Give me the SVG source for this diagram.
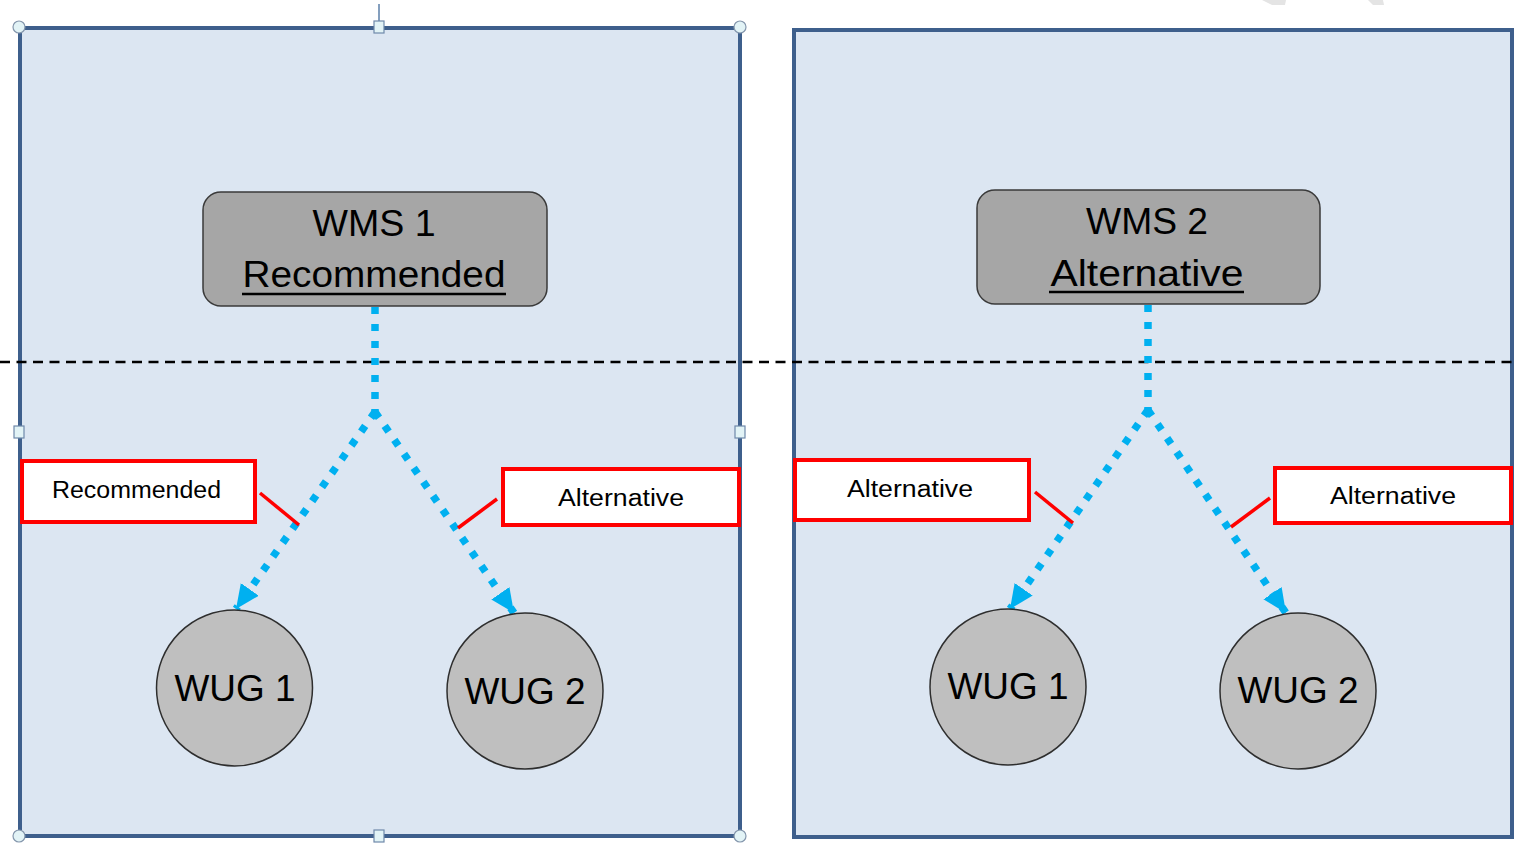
<svg xmlns="http://www.w3.org/2000/svg" width="1515" height="844" viewBox="0 0 1515 844">
  <style>
    .panel { fill: #DCE6F2; stroke: #3E5F8C; stroke-width: 4; }
    .wms { fill: #A6A6A6; stroke: #3A3A3A; stroke-width: 1.5; }
    .wug { fill: #BFBFBF; stroke: #2E2E2E; stroke-width: 1.5; }
    .big { font-family: "Liberation Sans", Arial, sans-serif; font-size: 37px; fill: #000; text-anchor: middle; }
    .lbl { fill: #FFFFFF; stroke: #FF0000; stroke-width: 4; }
    .lbltxt { font-family: "Liberation Sans", Arial, sans-serif; font-size: 23px; fill: #000; text-anchor: middle; }
    .call { stroke: #FF0000; stroke-width: 3.5; fill: none; }
    .dot { stroke: #00B0F0; stroke-width: 7.5; fill: none; stroke-dasharray: 7 10; }
    .sep { stroke: #000; stroke-width: 2.5; stroke-dasharray: 10 6.5; fill: none; }
    .hc { fill: #E2F3F6; stroke: #8496AC; stroke-width: 1.2; }
    .hs { fill: #E2F3F6; stroke: #6F89AA; stroke-width: 1.2; }
    .ul { stroke: #000; stroke-width: 2.5; }
  </style>
  <defs>
    <marker id="arr" markerUnits="userSpaceOnUse" markerWidth="30" markerHeight="30" refX="24" refY="11" orient="auto">
      <path d="M0,0 L24,11 L0,22 Z" fill="#00B0F0"/>
    </marker>
  </defs>

  <rect width="1515" height="844" fill="#FFFFFF"/>
  <polygon points="1262,0 1286,0 1285,5 1272,5" fill="#E4E4E4"/>
  <polygon points="1368,0 1383,0 1384,5 1373,5" fill="#E4E4E4"/>

  <g id="panel-left">
    <rect class="panel" x="20" y="28" width="720" height="808"/>
  </g>
  <g id="panel-right">
    <rect class="panel" x="794" y="30" width="718" height="807"/>
  </g>

  <g id="selection-handles">
    <line x1="379" y1="4" x2="379" y2="22" stroke="#5B7FA8" stroke-width="1.5"/>
    <circle class="hc" cx="19" cy="27" r="6"/>
    <circle class="hc" cx="740" cy="27" r="6"/>
    <circle class="hc" cx="19" cy="836" r="6"/>
    <circle class="hc" cx="740" cy="836" r="6"/>
    <rect class="hs" x="374" y="21" width="10" height="12"/>
    <rect class="hs" x="374" y="830" width="10" height="12"/>
    <rect class="hs" x="14" y="426" width="10" height="12"/>
    <rect class="hs" x="735" y="426" width="10" height="12"/>
  </g>

  <g id="separator">
    <line class="sep" x1="0" y1="362" x2="1515" y2="362"/>
  </g>

  <g id="connectors">
    <line class="dot" x1="375" y1="307" x2="375" y2="412"/>
    <line class="dot" x1="375" y1="412" x2="236" y2="609" marker-end="url(#arr)"/>
    <line class="dot" x1="375" y1="412" x2="514" y2="613" marker-end="url(#arr)"/>
    <line class="dot" x1="1148" y1="305" x2="1148" y2="410"/>
    <line class="dot" x1="1148" y1="410" x2="1010" y2="609" marker-end="url(#arr)"/>
    <line class="dot" x1="1148" y1="410" x2="1286" y2="613" marker-end="url(#arr)"/>
  </g>

  <g id="wms1">
    <rect class="wms" x="203" y="192" width="344" height="114" rx="18"/>
    <text class="big" x="374" y="236" textLength="123" lengthAdjust="spacingAndGlyphs">WMS 1</text>
    <text class="big" x="374" y="287" textLength="263" lengthAdjust="spacingAndGlyphs">Recommended</text>
    <line class="ul" x1="242" y1="294" x2="506" y2="294"/>
  </g>
  <g id="wms2">
    <rect class="wms" x="977" y="190" width="343" height="114" rx="18"/>
    <text class="big" x="1147" y="234" textLength="122" lengthAdjust="spacingAndGlyphs">WMS 2</text>
    <text class="big" x="1147" y="286" textLength="193" lengthAdjust="spacingAndGlyphs">Alternative</text>
    <line class="ul" x1="1049" y1="292" x2="1244" y2="292"/>
  </g>

  <g id="wug1-left">
    <circle class="wug" cx="234.5" cy="688" r="78"/>
    <text class="big" x="235" y="701" textLength="121" lengthAdjust="spacingAndGlyphs">WUG 1</text>
  </g>
  <g id="wug2-left">
    <circle class="wug" cx="525" cy="691" r="78"/>
    <text class="big" x="525" y="704" textLength="121" lengthAdjust="spacingAndGlyphs">WUG 2</text>
  </g>
  <g id="wug1-right">
    <circle class="wug" cx="1008" cy="687" r="78"/>
    <text class="big" x="1008" y="699" textLength="121" lengthAdjust="spacingAndGlyphs">WUG 1</text>
  </g>
  <g id="wug2-right">
    <circle class="wug" cx="1298" cy="691" r="78"/>
    <text class="big" x="1298" y="703" textLength="121" lengthAdjust="spacingAndGlyphs">WUG 2</text>
  </g>

  <g id="label-recommended">
    <rect class="lbl" x="22" y="461" width="233" height="61"/>
    <text class="lbltxt" x="136.5" y="498" textLength="169" lengthAdjust="spacingAndGlyphs">Recommended</text>
    <line class="call" x1="260" y1="493" x2="299" y2="525"/>
  </g>
  <g id="label-alt-left">
    <rect class="lbl" x="503" y="469" width="236" height="56"/>
    <text class="lbltxt" x="621" y="506" textLength="126" lengthAdjust="spacingAndGlyphs">Alternative</text>
    <line class="call" x1="497" y1="499" x2="458" y2="528"/>
  </g>
  <g id="label-alt-right1">
    <rect class="lbl" x="795" y="460" width="234" height="60"/>
    <text class="lbltxt" x="910" y="497" textLength="126" lengthAdjust="spacingAndGlyphs">Alternative</text>
    <line class="call" x1="1035" y1="492" x2="1073" y2="523"/>
  </g>
  <g id="label-alt-right2">
    <rect class="lbl" x="1275" y="468" width="236" height="55"/>
    <text class="lbltxt" x="1393" y="504" textLength="126" lengthAdjust="spacingAndGlyphs">Alternative</text>
    <line class="call" x1="1270" y1="498" x2="1231" y2="527"/>
  </g>
</svg>
